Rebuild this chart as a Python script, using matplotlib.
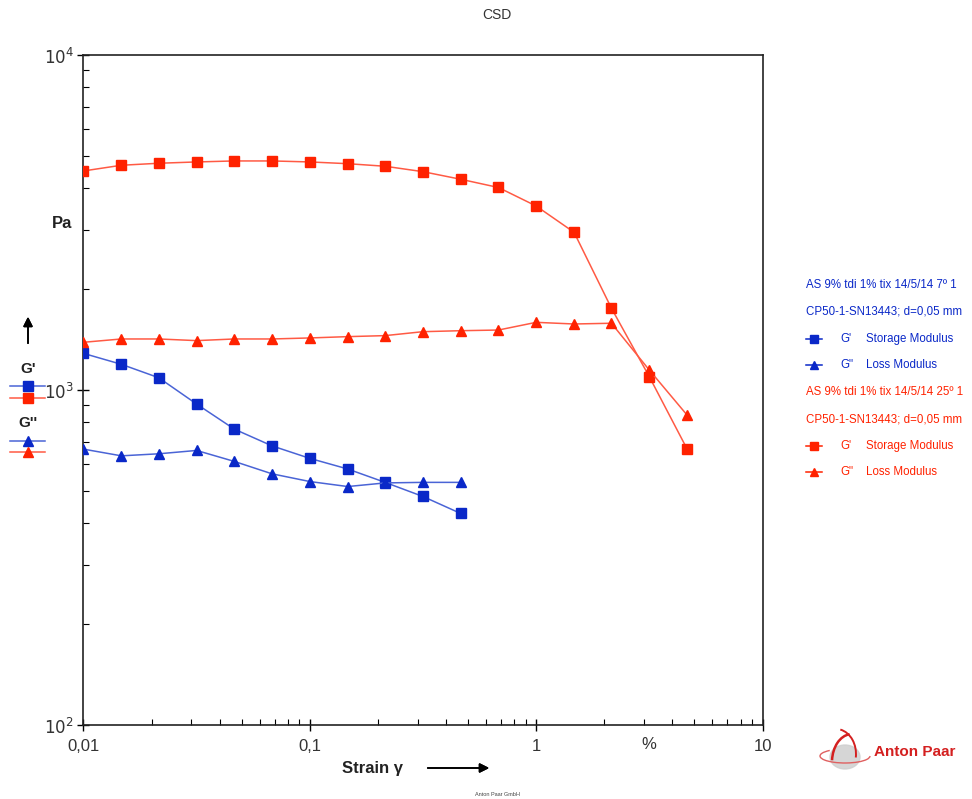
import numpy as np
import matplotlib.pyplot as plt
from matplotlib.lines import Line2D
from matplotlib.patches import Ellipse, Arc
from matplotlib.ticker import LogLocator, NullFormatter, FixedLocator

plt.rcParams['font.family'] = ['Liberation Sans', 'DejaVu Sans']

# Данные: деформация (%) и модули (Pa)
strain = [0.01, 0.0147, 0.0215, 0.0316, 0.0464, 0.0681, 0.1, 0.147, 0.215,
          0.316, 0.464, 0.681, 1.0, 1.47, 2.15, 3.16, 4.64]

g1_7 = [1286, 1193, 1088, 908, 764, 681, 625, 581, 530, 481, 428]
g2_7 = [666, 636, 645, 660, 612, 562, 533, 515, 528, 530, 530]

g1_25 = [4506, 4686, 4751, 4794, 4827, 4827, 4794, 4737, 4654, 4484, 4256,
         4022, 3541, 2956, 1754, 1096, 667]
g2_25 = [1388, 1420, 1420, 1404, 1420, 1420, 1430, 1443, 1453, 1493, 1503,
         1510, 1592, 1574, 1582, 1147, 842]

xticks = [0.01, 0.1, 1, 10]
xlabels = ['0,01', '0,1', '1', '10']
yticks = [100, 1000, 10000]
ylabels = ['$10^{2}$', '$10^{3}$', '$10^{4}$']

legend_lines = ['AS 9% tdi 1% tix 14/5/14 7º 1', 'CP50-1-SN13443; d=0,05 mm',
                'AS 9% tdi 1% tix 14/5/14 25º 1', 'CP50-1-SN13443; d=0,05 mm']

blue = '#0a28c8'
blue_l = '#4a64d6'
red = '#ff2200'
red_l = '#ff5a44'
txt = '#333333'

fig = plt.figure(figsize=(9.72, 7.99), dpi=100)
ax = fig.add_axes([0.0859, 0.0926, 0.6986, 0.8386])
ax.set_xscale('log')
ax.set_yscale('log')
ax.set_xlim(0.01, 10)
ax.set_ylim(100, 10000)

ms = 7
ax.plot(strain[:len(g1_7)], g1_7, '-', color=blue_l, lw=1.1, marker='s', ms=ms,
        mfc=blue, mec=blue, zorder=3)
ax.plot(strain[:len(g2_7)], g2_7, '-', color=blue_l, lw=1.1, marker='^', ms=ms,
        mfc=blue, mec=blue, zorder=3)
ax.plot(strain, g1_25, '-', color=red_l, lw=1.1, marker='s', ms=ms,
        mfc=red, mec=red, zorder=3)
ax.plot(strain, g2_25, '-', color=red_l, lw=1.1, marker='^', ms=ms,
        mfc=red, mec=red, zorder=3)

ax.xaxis.set_major_locator(FixedLocator(xticks))
ax.set_xticklabels(xlabels)
ax.yaxis.set_major_locator(FixedLocator(yticks))
ax.set_yticklabels(ylabels)
ax.xaxis.set_minor_locator(LogLocator(base=10, subs=np.arange(2, 10)))
ax.yaxis.set_minor_locator(LogLocator(base=10, subs=np.arange(2, 10)))
ax.xaxis.set_minor_formatter(NullFormatter())
ax.yaxis.set_minor_formatter(NullFormatter())
ax.tick_params(axis='x', which='major', direction='inout', length=8, width=1,
               labelsize=12, labelcolor=txt, pad=6)
ax.tick_params(axis='y', which='major', direction='inout', length=8, width=1,
               labelsize=12, labelcolor=txt, pad=3)
ax.tick_params(which='minor', direction='in', length=4, width=0.8)
for s in ax.spines.values():
    s.set_color('#222222')
    s.set_linewidth(1.2)

ax.text(3.16, -0.018, '%', transform=ax.get_xaxis_transform(), ha='center',
        va='top', fontsize=12, color=txt)

# Заголовок и подписи осей
fig.text(497 / 972, 1 - 15 / 799, 'CSD', ha='center', va='center', fontsize=10, color=txt)
fig.text(62 / 972, 1 - 223 / 799, 'Pa', ha='center', va='center', fontsize=12,
         fontweight='bold', color='#222222')
fig.text(372 / 972, 1 - 768 / 799, 'Strain γ', ha='center', va='center',
         fontsize=12, fontweight='bold', color='#222222')
fig.text(497 / 972, 1 - 797 / 799, 'Anton Paar GmbH', ha='center', va='bottom',
         fontsize=4, color='#444444')
fig.add_artist(plt.annotate('', xy=(492 / 972, 1 - 768 / 799),
                            xytext=(425 / 972, 1 - 768 / 799),
                            xycoords='figure fraction',
                            arrowprops=dict(arrowstyle='-|>', color='black', lw=1.2,
                                            mutation_scale=14)))
fig.add_artist(plt.annotate('', xy=(28 / 972, 1 - 314 / 799),
                            xytext=(28 / 972, 1 - 346 / 799),
                            xycoords='figure fraction',
                            arrowprops=dict(arrowstyle='-|>', color='black', lw=1.2,
                                            mutation_scale=14)))

# Левая легенда
fig.text(28 / 972, 1 - 369 / 799, "G'", ha='center', va='center', fontsize=11,
         fontweight='bold', color='#222222')
fig.text(28 / 972, 1 - 423 / 799, "G''", ha='center', va='center', fontsize=11,
         fontweight='bold', color='#222222')
for yy, c, cl, m in [(386, blue, blue_l, 's'), (398, red, red_l, 's'),
                     (441, blue, blue_l, '^'), (452, red, red_l, '^')]:
    fig.add_artist(Line2D([10 / 972, 45 / 972], [1 - yy / 799] * 2, color=cl, lw=1.1,
                          transform=fig.transFigure))
    fig.add_artist(Line2D([28 / 972], [1 - yy / 799], color=c, marker=m, ms=6.5,
                          transform=fig.transFigure))

# Правая легенда
rows = [(285, legend_lines[0], None, blue), (312, legend_lines[1], None, blue),
        (339, "G'", 's', blue), (365, 'G"', '^', blue),
        (392, legend_lines[2], None, red), (419, legend_lines[3], None, red),
        (446, "G'", 's', red), (472, 'G"', '^', red)]
for yy, label, m, c in rows:
    y = 1 - yy / 799
    if m is None:
        fig.text(806 / 972, y, label, ha='left', va='center', fontsize=8.3, color=c)
    else:
        fig.add_artist(Line2D([806 / 972, 822 / 972], [y, y], color=c, lw=1.1,
                              transform=fig.transFigure))
        fig.add_artist(Line2D([814 / 972], [y], color=c, marker=m, ms=6,
                              transform=fig.transFigure))
        fig.text(840 / 972, y, label, ha='left', va='center', fontsize=8.3, color=c)
        name = 'Storage Modulus' if m == 's' else 'Loss Modulus'
        fig.text(866 / 972, y, name, ha='left', va='center', fontsize=8.3, color=c)

# Логотип Anton Paar
lax = fig.add_axes([818 / 972, 1 - 782 / 799, 54 / 972, 54 / 799])
lax.set_xlim(0, 54)
lax.set_ylim(0, 54)
lax.axis('off')
lax.add_patch(Ellipse((27, 25), 30, 24, color='#cfcfcf', alpha=0.85))
lax.add_patch(Arc((34, 20), 40, 56, theta1=95, theta2=175, color='#d42020', lw=1.8))
lax.add_patch(Arc((18, 28), 40, 50, theta1=-10, theta2=80, color='#d42020', lw=1.4))
lax.add_patch(Arc((27, 26), 50, 14, theta1=160, theta2=360, color='#e06060', lw=1.0))
fig.text(874 / 972, 1 - 752 / 799, 'Anton Paar', ha='left', va='center',
         fontsize=11, fontweight='bold', color='#d42020')

fig.savefig('out.png', dpi=100)
